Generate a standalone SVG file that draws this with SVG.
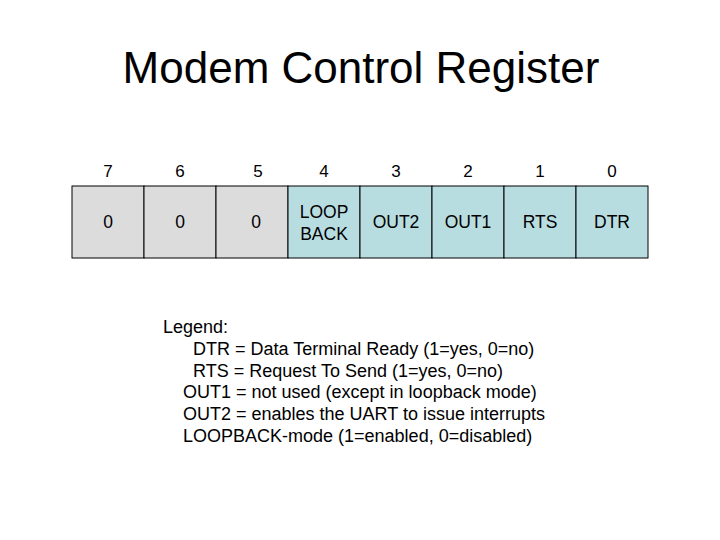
<svg xmlns="http://www.w3.org/2000/svg" width="720" height="540" viewBox="0 0 720 540">
<style>
text{font-family:"Liberation Sans",Arial,sans-serif;fill:#000}
.h{font-size:17px;text-anchor:middle}
.c{font-size:17.5px;text-anchor:middle}
.g{fill:#dcdcdc;stroke:#000;stroke-width:1}
.b{fill:#b8dde1;stroke:#000;stroke-width:1}
.l{font-size:18px}
</style>
<rect width="720" height="540" fill="#fff"/>
<text x="361" y="83" font-size="44" text-anchor="middle">Modem Control Register</text>
<g id="headers">
<text class="h" x="108" y="177">7</text><text class="h" x="180" y="177">6</text><text class="h" x="258" y="177">5</text><text class="h" x="324" y="177">4</text><text class="h" x="396" y="177">3</text><text class="h" x="468" y="177">2</text><text class="h" x="540" y="177">1</text><text class="h" x="612" y="177">0</text>
</g>
<g id="b7"><rect class="g" x="72" y="186" width="72" height="72"/><text class="c" x="108" y="228">0</text></g>
<g id="b6"><rect class="g" x="144" y="186" width="72" height="72"/><text class="c" x="180" y="228">0</text></g>
<g id="b5"><rect class="g" x="216" y="186" width="72" height="72"/><text class="c" x="256" y="228">0</text></g>
<g id="b4"><rect class="b" x="288" y="186" width="72" height="72"/><text class="c" x="324" y="218">LOOP</text><text class="c" x="324" y="240">BACK</text></g>
<g id="b3"><rect class="b" x="360" y="186" width="72" height="72"/><text class="c" x="396" y="228">OUT2</text></g>
<g id="b2"><rect class="b" x="432" y="186" width="72" height="72"/><text class="c" x="468" y="228">OUT1</text></g>
<g id="b1"><rect class="b" x="504" y="186" width="72" height="72"/><text class="c" x="540" y="228">RTS</text></g>
<g id="b0"><rect class="b" x="576" y="186" width="72" height="72"/><text class="c" x="612" y="228">DTR</text></g>
<g id="legend">
<text class="l" x="163" y="333">Legend:</text>
<text class="l" x="193" y="355">DTR = Data Terminal Ready (1=yes, 0=no)</text>
<text class="l" x="193" y="377">RTS = Request To Send (1=yes, 0=no)</text>
<text class="l" x="183" y="398">OUT1 = not used (except in loopback mode)</text>
<text class="l" x="183" y="420">OUT2 = enables the UART to issue interrupts</text>
<text class="l" x="183" y="442">LOOPBACK-mode (1=enabled, 0=disabled)</text>
</g>
</svg>
